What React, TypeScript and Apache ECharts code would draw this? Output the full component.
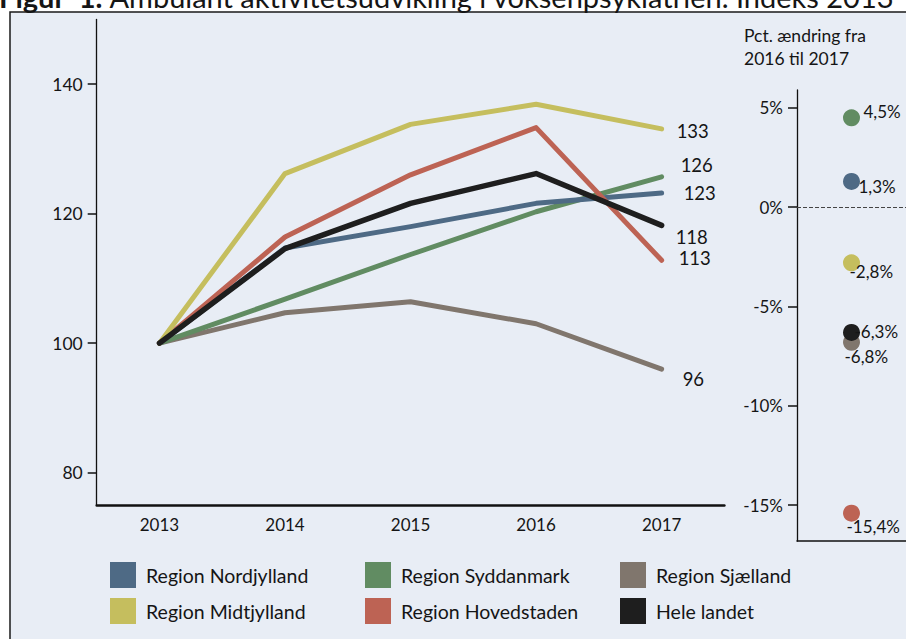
import React, { useEffect, useRef } from "react";
import * as echarts from "echarts";

const years = ["2013", "2014", "2015", "2016", "2017"];
const nordjylland = [100, 114.7, 118.0, 121.6, 123.2];
const syddanmark = [100, 106.8, 113.7, 120.3, 125.7];
const sjaelland = [100, 104.7, 106.4, 103.0, 96.0];
const midtjylland = [100, 126.2, 133.8, 136.9, 133.1];
const hovedstaden = [100, 116.4, 126.0, 133.3, 112.8];
const heleLandet = [100, 114.6, 121.6, 126.2, 118.2];

const indexTicks = [80, 100, 120, 140];
const changeTicks = [5, 0, -5, -10, -15];

const changeRegions = [
  "Region Syddanmark",
  "Region Nordjylland",
  "Region Midtjylland",
  "Region Sjælland",
  "Hele landet",
  "Region Hovedstaden",
];
const changeValues = [4.5, 1.3, -2.8, -6.8, -6.3, -15.4];

const FONT = "Lato, 'Noto Sans', sans-serif";
const TXT = "#151515";

const colors: Record<string, string> = {
  "Region Nordjylland": "#4E6A85",
  "Region Syddanmark": "#618C62",
  "Region Sjælland": "#80766D",
  "Region Midtjylland": "#C5BE5E",
  "Region Hovedstaden": "#BD6354",
  "Hele landet": "#1E1E1E",
};

// end label offsets [dx, dy] (layout only)
const endOffsets: Record<string, number[]> = {
  "Region Nordjylland": [22, 0],
  "Region Syddanmark": [19, -12],
  "Region Sjælland": [21, 10],
  "Region Midtjylland": [15, 2],
  "Region Hovedstaden": [17, -2],
  "Hele landet": [14, 12],
};
// dot label offsets [dx, dy] (layout only)
const dotOffsets: Record<string, number[]> = {
  "Region Syddanmark": [12, -6],
  "Region Nordjylland": [7, 5],
  "Region Midtjylland": [-2, 9],
  "Region Sjælland": [-7, 14],
  "Hele landet": [3, -1],
  "Region Hovedstaden": [-5, 13],
};

const lineSeries: [string, number[]][] = [
  ["Region Sjælland", sjaelland],
  ["Region Syddanmark", syddanmark],
  ["Region Nordjylland", nordjylland],
  ["Region Hovedstaden", hovedstaden],
  ["Region Midtjylland", midtjylland],
  ["Hele landet", heleLandet],
];

export default function App() {
  const ref = useRef<HTMLDivElement>(null);
  useEffect(() => {
    if (!ref.current) return;
    const chart = echarts.init(ref.current, undefined, { renderer: "svg" });
    const legendBase = {
      orient: "vertical",
      top: 562,
      padding: 0,
      itemWidth: 26,
      itemHeight: 26,
      itemGap: 10,
      icon: "rect",
      selectedMode: false,
      textStyle: { fontSize: 19.5, fontFamily: FONT, color: TXT, padding: [0, 0, 0, 5] },
    };
    const option: any = {
      animation: false,
      backgroundColor: "#ffffff",
      graphic: [
        {
          type: "rect",
          z: -10,
          shape: { x: 10, y: 12, width: 920, height: 660 },
          style: { fill: "#E8EDF5", stroke: "#1a1a1a", lineWidth: 1.5 },
          silent: true,
        },
        {
          type: "text",
          x: -1,
          y: -4,
          style: {
            text: "{b|Figur  1.} Ambulant aktivitetsudvikling i voksenpsykiatrien. Indeks 2013",
            fontSize: 29,
            fontFamily: FONT,
            fill: TXT,
            verticalAlign: "middle",
            rich: { b: { fontWeight: "bold", fontSize: 29, fontFamily: FONT } },
          },
        },
        {
          type: "text",
          x: 744,
          y: 35,
          style: { text: "Pct. ændring fra", fontSize: 17.5, fontFamily: FONT, fill: TXT, verticalAlign: "middle" },
        },
        {
          type: "text",
          x: 744,
          y: 58,
          style: { text: "2016 til 2017", fontSize: 17.5, fontFamily: FONT, fill: TXT, verticalAlign: "middle" },
        },
      ],
      legend: [
        { ...legendBase, left: 110, data: ["Region Nordjylland", "Region Midtjylland"] },
        { ...legendBase, left: 365, data: ["Region Syddanmark", "Region Hovedstaden"] },
        { ...legendBase, left: 620, data: ["Region Sjælland", "Hele landet"] },
      ],
      grid: [
        { left: 96.7, top: 19.5, width: 627.7, height: 485.5 },
        { left: 797, top: 90, width: 109, height: 451 },
      ],
      xAxis: [
        {
          gridIndex: 0,
          type: "category",
          data: years,
          boundaryGap: true,
          axisLine: { onZero: false, lineStyle: { color: "#111", width: 2.5 } },
          axisTick: { length: 8, lineStyle: { color: "#111", width: 1.5 } },
          axisLabel: { fontSize: 17, fontFamily: FONT, color: TXT, margin: 11 },
        },
        {
          gridIndex: 1,
          type: "category",
          data: [""],
          boundaryGap: true,
          axisLine: { onZero: false, lineStyle: { color: "#111", width: 1.5 } },
          axisTick: { show: false },
          axisLabel: { show: false },
        },
      ],
      yAxis: [
        {
          gridIndex: 0,
          type: "value",
          min: 75,
          max: 150,
          splitLine: { show: false },
          axisLine: { show: true, lineStyle: { color: "#111", width: 1.3 } },
          axisTick: { show: true, length: 9, customValues: indexTicks, lineStyle: { color: "#111", width: 1.5 } },
          axisLabel: { customValues: indexTicks, fontSize: 17.5, fontFamily: FONT, color: TXT, margin: 14 },
        },
        {
          gridIndex: 1,
          type: "value",
          min: -16.8,
          max: 5.9,
          splitLine: { show: false },
          axisLine: { show: true, lineStyle: { color: "#111", width: 1.3 } },
          axisTick: { show: true, length: 9, customValues: changeTicks, lineStyle: { color: "#111", width: 1.5 } },
          axisLabel: {
            customValues: changeTicks,
            fontSize: 17,
            fontFamily: FONT,
            color: TXT,
            margin: 14,
            formatter: (v: number) => `${v}%`,
          },
        },
      ],
      series: [
        ...lineSeries.map(([name, data]) => ({
          type: "line",
          name,
          data,
          xAxisIndex: 0,
          yAxisIndex: 0,
          symbol: "none",
          color: colors[name],
          lineStyle: { width: name === "Hele landet" ? 5.5 : 5, color: colors[name], cap: "round", join: "round" },
          emphasis: { disabled: true },
          endLabel: {
            show: true,
            distance: 0,
            offset: endOffsets[name],
            fontSize: 18.5,
            fontFamily: FONT,
            color: TXT,
            formatter: (p: any) => String(Math.round(p.value)),
          },
        })),
        {
          type: "scatter",
          name: "change",
          xAxisIndex: 1,
          yAxisIndex: 1,
          symbolSize: 17,
          emphasis: { disabled: true },
          data: changeValues.map((v, i) => ({
            value: [0, v],
            name: changeRegions[i],
            itemStyle: { color: colors[changeRegions[i]], opacity: 1 },
            label: {
              show: true,
              position: "inside",
              align: "left",
              verticalAlign: "middle",
              offset: dotOffsets[changeRegions[i]],
              fontSize: 17,
              fontFamily: FONT,
              color: TXT,
              formatter: () => `${v.toFixed(1).replace(".", ",")}%`,
            },
          })),
          markLine: {
            silent: true,
            symbol: "none",
            label: { show: false },
            lineStyle: { type: "dashed", color: "#444", width: 1 },
            data: [{ yAxis: 0 }],
          },
        },
      ],
    };
    chart.setOption(option);
    return () => chart.dispose();
  }, []);
  return (
    <div
      ref={ref}
      style={{ position: "absolute", left: 0, top: 0, width: 906, height: 639 }}
    />
  );
}
